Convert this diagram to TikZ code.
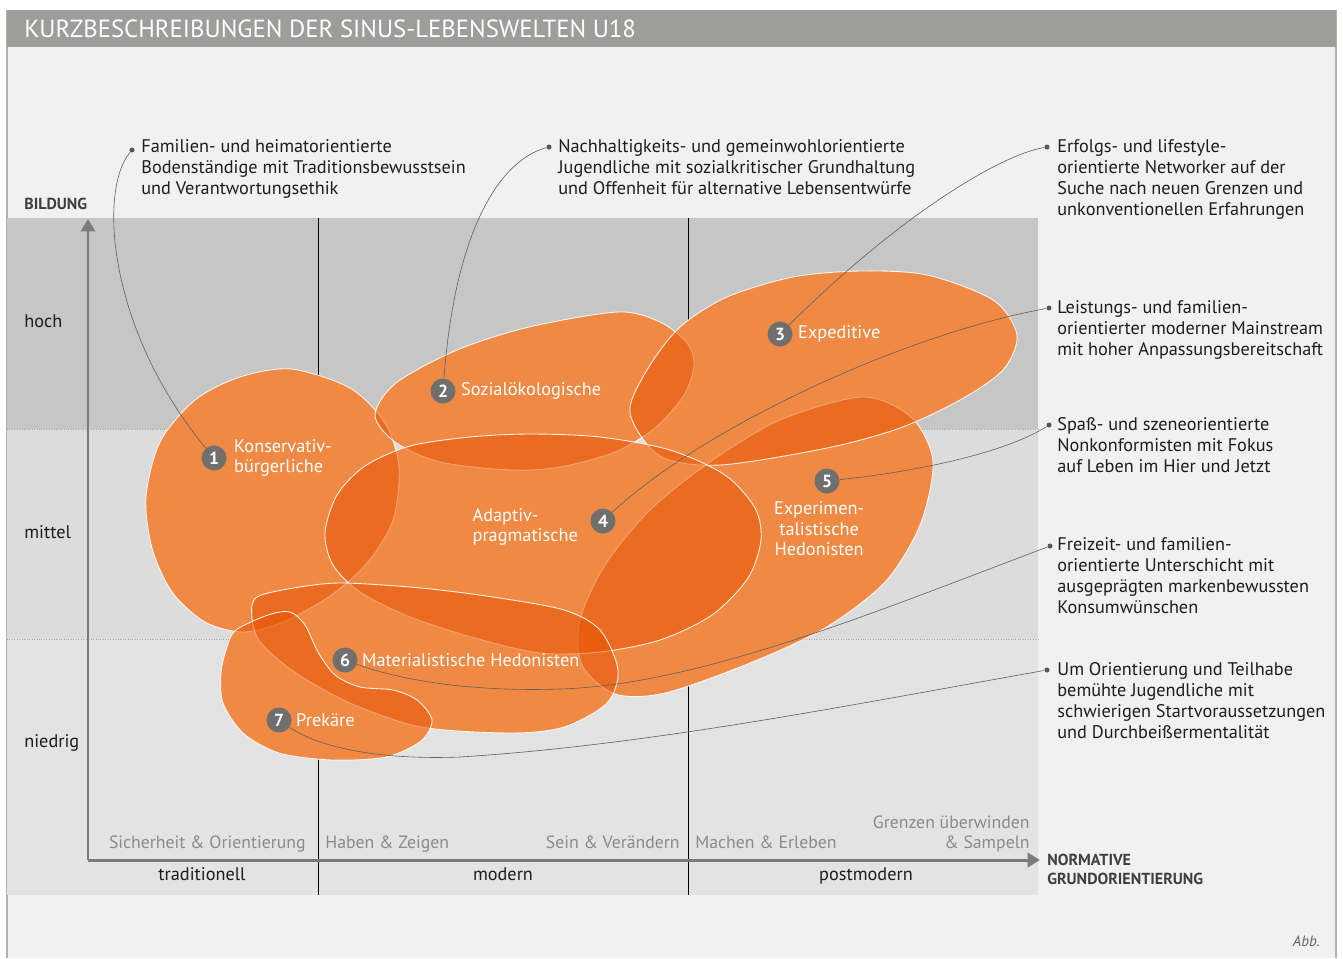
\documentclass[tikz,border=0pt]{standalone}
\usepackage{fontspec}
\setmainfont{PT Sans}
\usetikzlibrary{arrows.meta,positioning}
\definecolor{bar}{HTML}{9D9D9C}
\definecolor{panel}{HTML}{F1F1F1}
\definecolor{bandhoch}{HTML}{C6C6C6}
\definecolor{bandmittel}{HTML}{DCDCDC}
\definecolor{bandniedrig}{HTML}{E3E3E3}
\definecolor{ink}{HTML}{1D1D1B}
\definecolor{axisgrey}{HTML}{7B7B7B}
\definecolor{valuegrey}{HTML}{8A8A8A}
\definecolor{markgrey}{HTML}{6F6F6E}
\definecolor{lwbase}{RGB}{251,196,138}
\definecolor{lwtone}{RGB}{231,80,0}
\newcommand{\shKons}{plot[smooth cycle] coordinates {(291,369) (350,388) (385,423) (399,467) (393,520) (368,562) (330,596) (283,622) (243,632) (205,622) (172,592) (152,548) (146,497) (160,442) (195,400) (240,377)}}
\newcommand{\shSozi}{plot[smooth cycle] coordinates {(375,415) (396,383) (457,350) (529,327) (618,312) (660,322) (687,343) (694,365) (684,395) (655,428) (615,452) (560,467) (511,470) (440,462) (395,442)}}
\newcommand{\shExpe}{plot[smooth cycle] coordinates {(630,413) (647,370) (680,327) (727,297) (793,277) (860,271) (927,275) (993,300) (1017,335) (1003,370) (960,400) (900,428) (827,448) (720,465) (660,456)}}
\newcommand{\shAdap}{plot[smooth cycle] coordinates {(325,533) (337,495) (365,466) (410,446) (470,437) (530,434) (600,437) (670,450) (725,475) (755,508) (761,540) (748,578) (712,615) (660,640) (600,652) (540,653) (475,638) (410,617) (360,592) (333,565)}}
\newcommand{\shExpH}{plot[smooth cycle] coordinates {(863,397) (912,418) (933,462) (920,525) (885,582) (825,628) (750,663) (665,693) (615,694) (582,665) (580,620) (605,565) (650,510) (710,462) (780,420)}}
\newcommand{\shMate}{plot[smooth cycle] coordinates {(257,597) (300,587) (343,583) (421,588) (493,597) (564,610) (600,630) (618,670) (607,703) (564,727) (511,733) (421,727) (350,703) (296,673) (261,643) (252,618)}}
\newcommand{\shPrek}{plot[smooth cycle] coordinates {(236,630) (268,615) (290,612) (305,625) (318,652) (335,675) (360,687) (393,690) (417,700) (432,720) (421,741) (386,757) (332,760) (279,753) (243,733) (223,703) (221,673) (227,647)}}
\begin{document}
\begin{tikzpicture}[x=0.02cm,y=-0.02cm,
body/.style={inner sep=0pt,text=ink,font=\fontsize{10.4}{11.9}\selectfont},
desc/.style={body,anchor=north west,align=left},
value/.style={inner sep=0pt,text=valuegrey,font=\fontsize{10.1}{11}\selectfont},
caps/.style={inner sep=0pt,text=ink!85,align=left,font=\bfseries\fontsize{9.1}{10.6}\selectfont},
world/.style={fill=lwtone,fill opacity=.5,draw=white,draw opacity=.9,line width=.5pt},
num/.style={circle,fill=markgrey,text=white,inner sep=0pt,minimum size=0.5cm,font=\bfseries\fontsize{10}{12}\selectfont},
lbl/.style={inner sep=0pt,text=white,font=\fontsize{10.4}{11.9}\selectfont},
dot/.style={circle,fill=ink!75,inner sep=0pt,minimum size=1mm},
leader/.style={draw=ink!70,line width=.35pt},
axis/.style={draw=axisgrey,line width=1.7pt,-{Triangle[length=7pt,width=8pt]}}]
\useasboundingbox (0,0) rectangle (1343,958);
\fill[white] (0,0) rectangle (1343,958);
\fill[panel] (7,10) rectangle (1336,958);
\draw[bar!80,line width=.6pt] (7,10) -- (7,958) (1336,10) -- (1336,958);
\fill[bar] (7,10) rectangle (1336,47);
\node[anchor=west,inner sep=0pt,text=white,font=\fontsize{14.1}{16}\selectfont] (title) at (24,29) {KURZBESCHREIBUNGEN DER SINUS-LEBENSWELTEN U18};
\fill[bandhoch] (7,218) rectangle (1038,429);
\fill[bandmittel] (7,429) rectangle (1038,639);
\fill[bandniedrig] (7,639) rectangle (1038,895);
\draw[black!35,densely dotted,line width=.4pt] (7,429) -- (1038,429) (7,639) -- (1038,639);
\draw[black,line width=.45pt] (318,218) -- (318,895) (688,218) -- (688,895);
\coordinate (origin) at (88,860);
\coordinate (ytop) at (88,219);
\coordinate (xend) at (1040,860);
\draw[axis] (origin) -- (ytop);
\draw[axis] (origin) -- (xend);
\node[caps,anchor=west] (bildung) at (24,204) {BILDUNG};
\node[caps,anchor=north west] (normativ) at (1047,854) {NORMATIVE\\GRUNDORIENTIERUNG};
\node[body,anchor=west] (hoch) at (24,321) {hoch};
\node[body,anchor=west] (mittel) at (24,532) {mittel};
\node[body,anchor=west] (niedrig) at (24,743) {niedrig};
\node[value,anchor=base east] (v1) at (306,848) {Sicherheit \& Orientierung};
\node[value,anchor=base west] (v2) at (325,848) {Haben \& Zeigen};
\node[value,anchor=base east] (v3) at (680,848) {Sein \& Verändern};
\node[value,anchor=base west] (v4) at (695,848) {Machen \& Erleben};
\node[value,anchor=south east,align=right] (v5) at (1030,852) {Grenzen überwinden\\\& Sampeln};
\node[body,anchor=base] (trad) at (202,880) {traditionell};
\node[body,anchor=base] (mod) at (503,880) {modern};
\node[body,anchor=base] (post) at (866,880) {postmodern};
\foreach \s in {\shKons,\shExpH,\shSozi,\shExpe,\shAdap,\shMate,\shPrek} \fill[lwbase] \s;
\foreach \s in {\shKons,\shExpH,\shSozi,\shExpe,\shAdap,\shMate,\shPrek} \filldraw[world] \s;
\node[num] (m1) at (214,458) {1};
\node[num] (m2) at (443,391) {2};
\node[num] (m3) at (780,334) {3};
\node[num] (m4) at (603,521) {4};
\node[num] (m5) at (827,481) {5};
\node[num] (m6) at (345,660) {6};
\node[num] (m7) at (279,720) {7};
\node[lbl,align=left,right=1.4mm of m1] (l1) {Konservativ-\\bürgerliche};
\node[lbl,right=1mm of m2] (l2) {Sozialökologische};
\node[lbl,right=1mm of m3] (l3) {Expeditive};
\node[lbl,align=left,left=2.4mm of m4,yshift=-3.4pt] (l4) {Adaptiv-\\pragmatische};
\node[lbl,align=center,below=1.4mm of m5,xshift=-4.5pt] (l5) {Experimen-\\talistische\\Hedonisten};
\node[lbl,right=0.8mm of m6] (l6) {Materialistische Hedonisten};
\node[lbl,right=0.8mm of m7] (l7) {Prekäre};
\node[desc] (t1) at (141,139) {Familien- und heimatorientierte\\Bodenständige mit Traditionsbewusstsein\\und Verantwortungsethik};
\node[desc] (t2) at (558,139) {Nachhaltigkeits- und gemeinwohlorientierte\\Jugendliche mit sozialkritischer Grundhaltung\\und Offenheit für alternative Lebensentwürfe};
\node[desc] (t3) at (1057,139) {Erfolgs- und lifestyle-\\orientierte Networker auf der\\Suche nach neuen Grenzen und\\unkonventionellen Erfahrungen};
\node[desc] (t4) at (1057,300) {Leistungs- und familien-\\orientierter moderner Mainstream\\mit hoher Anpassungsbereitschaft};
\node[desc] (t5) at (1057,417) {Spaß- und szeneorientierte\\Nonkonformisten mit Fokus\\auf Leben im Hier und Jetzt};
\node[desc] (t6) at (1057,537) {Freizeit- und familien-\\orientierte Unterschicht mit\\ausgeprägten markenbewussten\\Konsumwünschen};
\node[desc] (t7) at (1057,662) {Um Orientierung und Teilhabe\\bemühte Jugendliche mit\\schwierigen Startvoraussetzungen\\und Durchbeißermentalität};
\node[dot] (d1) at (132,150) {};
\node[dot] (d2) at (549,147) {};
\node[dot] (d3) at (1047,147) {};
\node[dot] (d4) at (1049,308) {};
\node[dot] (d5) at (1049,425) {};
\node[dot] (d6) at (1050,546) {};
\node[dot] (d7) at (1047,670) {};
\draw[leader] (d1) .. controls (98,190) and (108,330) .. (m1);
\draw[leader] (d2) .. controls (500,160) and (455,230) .. (m2);
\draw[leader] (d3) .. controls (1000,155) and (900,215) .. (m3);
\draw[leader] (d4) .. controls (900,335) and (700,430) .. (m4);
\draw[leader] (d5) .. controls (1010,450) and (930,470) .. (m5);
\draw[leader] (d6) .. controls (880,610) and (700,685) .. (560,689) .. controls (470,692) and (400,680) .. (m6);
\draw[leader] (d7) .. controls (850,705) and (650,745) .. (460,757) .. controls (380,760) and (320,748) .. (m7);
\node[inner sep=0pt,anchor=east,text=ink!70,font=\itshape\fontsize{8.5}{10}\selectfont] (abb) at (1320,941) {Abb.};
\end{tikzpicture}
\end{document}
